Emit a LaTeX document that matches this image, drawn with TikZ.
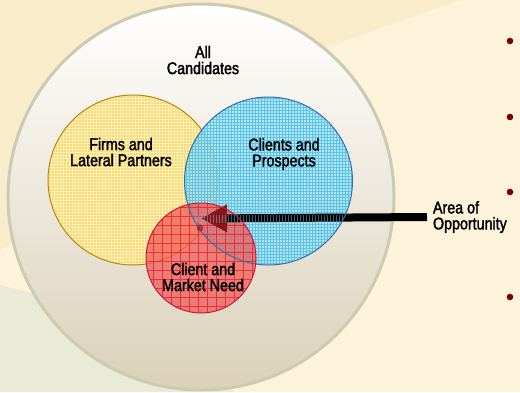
\documentclass[tikz,border=0pt]{standalone}
\usepackage{fontspec}
\setmainfont[FakeStretch=0.84, FakeBold=1.8]{Liberation Sans}
\usetikzlibrary{patterns,arrows.meta}

\definecolor{bgcream}{HTML}{FDF3DA}
\definecolor{bgband}{HTML}{F8ECCB}
\definecolor{bgpale}{HTML}{EBEAD7}
\definecolor{allrim}{HTML}{CDCAB2}
\definecolor{allbottom}{HTML}{DBD1B9}
\definecolor{firmsfill}{HTML}{F8D870}
\definecolor{firmsgrid}{HTML}{FDF0B8}
\definecolor{firmsrim}{HTML}{B8860B}
\definecolor{clientfill}{HTML}{A6E0F2}
\definecolor{clientgrid}{HTML}{58C6EC}
\definecolor{clientrim}{HTML}{3A6CA8}
\definecolor{needfill}{HTML}{F05C5C}
\definecolor{needgrid}{HTML}{E81C1C}
\definecolor{needrim}{HTML}{C8183C}
\definecolor{needdark}{HTML}{8A1416}
\definecolor{bulletred}{HTML}{7A0000}

\tikzset{
  label text/.style={font=\fontsize{17}{16}\selectfont, align=center, inner sep=0pt},
  bullet/.style={fill=bulletred}
}

\begin{document}
\begin{tikzpicture}[x=1pt, y=-1pt]
    % page background
    \useasboundingbox (0,0) rectangle (520,392);
    \fill[bgcream] (0,0) rectangle (520,392);
    \fill[bgband] (0,0) -- (460,0) -- (330,46) -- (0,250) -- cycle;
    \fill[bgpale] (0,285) -- (60,300) -- (235,392) -- (0,392) -- cycle;

    % centres of the sets
    \coordinate (All) at (201,197);
    \coordinate (Firms) at (133,180);
    \coordinate (Clients) at (268.5,181);
    \coordinate (Need) at (201,258);
    \coordinate (Opp) at (201,218.5);

    % all candidates
    \draw[allrim, line width=3pt, top color=white, bottom color=allbottom]
      (All) circle (193);

    % firms and lateral partners
    \fill[firmsfill] (Firms) circle (85);
    \fill[pattern=grid, pattern color=firmsgrid] (Firms) circle (85);
    \draw[firmsrim, line width=1pt] (Firms) circle (85);

    % clients and prospects
    \begin{scope}[fill opacity=0.72]
      \fill[clientfill] (Clients) circle (84);
      \fill[pattern=grid, pattern color=clientgrid] (Clients) circle (84);
    \end{scope}

    % client and market need
    \fill[needfill, fill opacity=0.75] (Need) circle (55);
    \begin{scope}
      \clip (Need) circle (55);
      \draw[needgrid, opacity=0.75, step=9pt, line width=0.6pt] (140,195) grid (262,318);
    \end{scope}

    % pointer to the overlap
    \node[label text, anchor=west, align=left, outer sep=6pt] (opportunity) at (427,217) {Area of\\Opportunity};
    \draw[line width=8pt, -{Triangle[length=26pt, width=26pt, fill=needdark, color=needdark]}]
      (opportunity.west) -- (Opp);

    % fine blue lines across the bar
    \begin{scope}
      \clip (Clients) circle (84);
      \foreach \x in {186,189,...,354}
        \draw[clientgrid, opacity=0.5, line width=0.5pt] (\x,214.5) -- (\x,222.5);
    \end{scope}

    % rims
    \draw[clientrim, line width=1pt] (Clients) circle (84);
    \draw[needrim, line width=1pt] (Need) circle (55);
    \fill[needdark, opacity=0.6] (200,228) circle (3.5);

    % labels
    \node[label text] (all) at (203,60) {All\\Candidates};
    \node[label text] (firms) at (121,152) {Firms and\\Lateral Partners};
    \node[label text] (clients) at (284,154) {Clients and\\Prospects};
    \node[label text] (need) at (203,277) {Client and\\Market Need};

    % bullets on the right
    \foreach \y in {41,117,192,297}
      \fill[bullet] (510,\y) circle (3.3);
\end{tikzpicture}
\end{document}
